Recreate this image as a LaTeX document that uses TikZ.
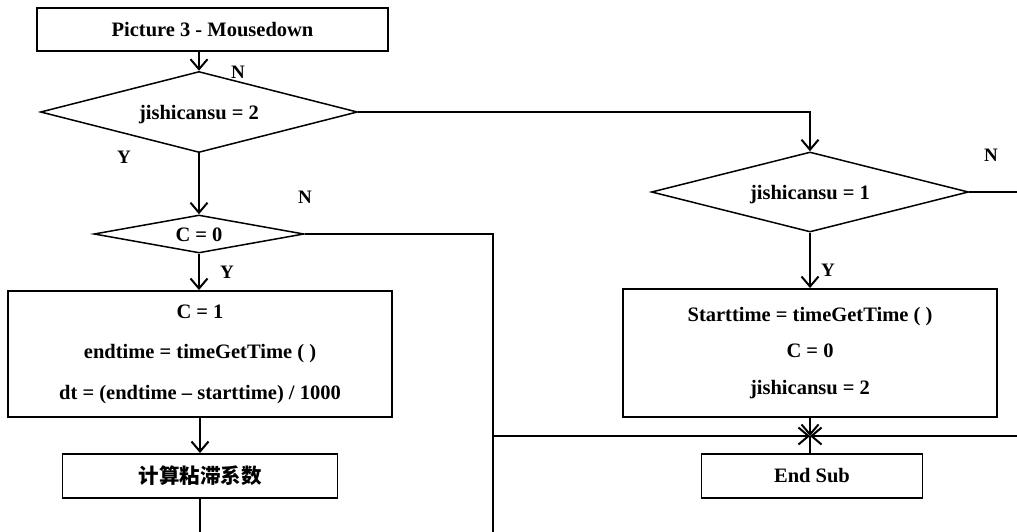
\documentclass[tikz,border=0pt]{standalone}
\usepackage{fontspec}
\setmainfont{Liberation Serif}
\newfontfamily\cjk{Noto Sans CJK SC}
\usetikzlibrary{shapes.geometric,arrows.meta}
\newcommand{\dtext}[1]{\raisebox{-0.36em}[0pt][0pt]{\makebox[0pt]{#1}}}
\tikzset{
  box/.style={draw,line width=1.9pt,rectangle,inner sep=0pt,font=\fontsize{20.5}{24.6}\selectfont\bfseries},
  dec/.style={draw,line width=1.5pt,diamond,inner sep=0pt,font=\fontsize{20.5}{24.6}\selectfont\bfseries},
  conn/.style={line width=1.2pt},
  arr/.style={conn,-{Straight Barb[length=10pt,width=17pt,line width=2pt]}},
  lab/.style={font=\fontsize{19}{22}\selectfont\bfseries}
}
\begin{document}
\begin{tikzpicture}[x=1pt,y=-1pt]
\useasboundingbox (0,0) rectangle (1017,532);
\node[box,minimum width=351pt,minimum height=43pt] (p3) at (212.5,29.5) {Picture 3 - Mousedown};
\node[dec,minimum width=317pt,minimum height=81pt] (d1) at (199,112) {\dtext{jishicansu = 2}};
\node[dec,minimum width=210pt,minimum height=38pt] (d2) at (199,234) {\dtext{C = 0}};
\node[box,minimum width=384pt,minimum height=126pt,align=center] (b1) at (200,354) {C = 1\\[16pt]endtime = timeGetTime ( )\\[16pt]dt = (endtime -- starttime) / 1000};
\node[box,minimum width=275pt,minimum height=44pt] (b2) at (200,476) {\cjk\bfseries 计算粘滞系数};
\node[dec,minimum width=317pt,minimum height=80pt] (d3) at (810,192) {\dtext{jishicansu = 1}};
\node[box,minimum width=374pt,minimum height=128pt,align=center] (b3) at (810,353) {Starttime = timeGetTime ( )\\[12pt]C = 0\\[12pt]jishicansu = 2};
\node[box,minimum width=221pt,minimum height=44pt] (es) at (812,476) {End Sub};
\coordinate (J) at (810,436);
\coordinate (L1) at (493,436);
\coordinate (R1) at (1017,436);
\coordinate (R2) at (1017,192);
\coordinate (B1) at (493,532);
\coordinate (B2) at (200,532);
\coordinate (T1) at (810,112);
\coordinate (T2) at (493,234);
% connectors
\draw[arr] (d1.north |- p3.south) -- (d1.north);
\draw[arr] (d1.south) -- (d2.north);
\draw[arr] (d2.south) -- (d2.south |- b1.north);
\draw[arr] (b1.south -| b2.north) -- (b2.north);
\draw[conn] (b2.south) -- (b2.south |- B2);
\draw[arr] (d1.east) -- (T1) -- (d3.north);
\draw[conn] (d2.east) -- (T2) -- (B1);
\draw[arr] (d3.south) -- (d3.south |- b3.north);
\draw[conn] (d3.east) -- (R2);
\draw[arr] (b3.south) -- (J);
\draw[arr] (L1) -- (J);
\draw[arr] (R1) -- (J);
\draw[conn] (J) -- (J |- es.north);
% labels
\node[lab] (n1) at (238,72) {N};
\node[lab] (y1) at (124,157) {Y};
\node[lab] (n2) at (305,197) {N};
\node[lab] (y2) at (227,272) {Y};
\node[lab] (n3) at (991,155) {N};
\node[lab] (y3) at (828,270) {Y};
\end{tikzpicture}
\end{document}
